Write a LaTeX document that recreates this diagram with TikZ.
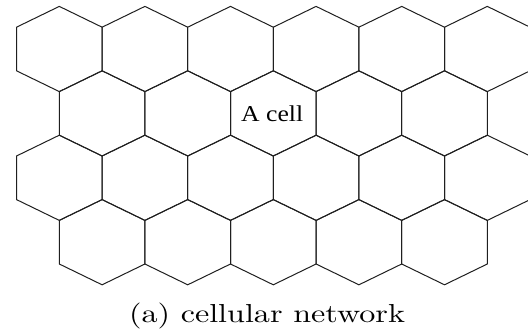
\documentclass[tikz,border=0pt]{standalone}
\usepackage{fontspec}
\newfontfamily\cellfont{Liberation Serif}
\newfontfamily\capfont{lmroman10-regular.otf}
\tikzset{
  hexline/.style={draw=black!88, line width=1pt, line join=miter},
  celllabel/.style={inner sep=0pt, anchor=base},
  caplabel/.style={inner sep=0pt, anchor=base}
}
\newcommand{\hexw}{42.8}
\newcommand{\hexs}{21.8}
\newcommand{\hexp}{20.8}
\begin{document}
\begin{tikzpicture}[x=1pt,y=-1pt]
\useasboundingbox (0,0) rectangle (528,334);
\begin{scope}
\clip (0,0) rectangle (528,334);
% rows 1 and 3: six hexagons each
\foreach \cy in {49.0,177.8}{
  \foreach \k in {0,...,5}{
    \pgfmathsetmacro{\cx}{59.3+85.6*\k}
    \draw[hexline] (\cx,\cy-\hexs-\hexp) -- (\cx+\hexw,\cy-\hexs) -- (\cx+\hexw,\cy+\hexs)
      -- (\cx,\cy+\hexs+\hexp) -- (\cx-\hexw,\cy+\hexs) -- (\cx-\hexw,\cy-\hexs) -- cycle;
  }
}
% rows 2 and 4: five hexagons each
\foreach \cy in {113.4,242.2}{
  \foreach \k in {0,...,4}{
    \pgfmathsetmacro{\cx}{102.1+85.6*\k}
    \draw[hexline] (\cx,\cy-\hexs-\hexp) -- (\cx+\hexw,\cy-\hexs) -- (\cx+\hexw,\cy+\hexs)
      -- (\cx,\cy+\hexs+\hexp) -- (\cx-\hexw,\cy+\hexs) -- (\cx-\hexw,\cy-\hexs) -- cycle;
  }
}
\end{scope}
\node[celllabel] (cell) at (272.2,121.7) {\resizebox{62pt}{\height}{\cellfont\fontsize{22.7}{26}\selectfont A cell}};
\node[caplabel] (caption) at (267,322.5) {\resizebox{276pt}{\height}{\capfont\fontsize{26}{30}\selectfont (a) cellular network}};
\end{tikzpicture}
\end{document}
